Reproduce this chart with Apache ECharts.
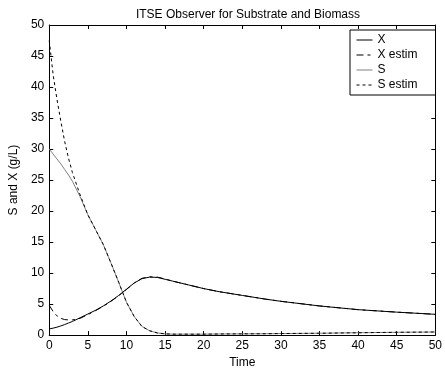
<!DOCTYPE html>
<html>
<head>
<meta charset="utf-8">
<script src="https://cdn.jsdelivr.net/npm/echarts@6/dist/echarts.min.js"></script>
<style>html,body{margin:0;padding:0;background:#fff;}#c{width:445px;height:374px;}</style>
</head>
<body>
<div id="c"></div>
<script>
var timeGrid = [0,0.5,1,1.5,2,2.5,3,4,5,6,7,8,9,10,11,12,13,14,15,16,17,18,20,22,25,28,30,35,40,45,50];
var xTrue  = [1.0,1.12,1.28,1.48,1.7,1.95,2.2,2.8,3.4,4.0,4.7,5.5,6.4,7.4,8.4,9.1,9.35,9.3,9.0,8.7,8.4,8.1,7.5,7.0,6.4,5.8,5.45,4.7,4.1,3.7,3.35];
var xEstim = [4.8,3.8,3.1,2.7,2.5,2.45,2.45,2.7,3.3,3.95,4.65,5.45,6.35,7.35,8.4,9.15,9.4,9.35,9.05,8.7,8.4,8.1,7.5,7.0,6.4,5.8,5.45,4.7,4.1,3.7,3.35];
var sTrue  = [30,29.2,28.4,27.6,26.7,25.8,24.8,22.3,19.4,17.0,14.6,11.6,8.5,5.3,3.0,1.4,0.7,0.35,0.2,0.15,0.15,0.15,0.15,0.18,0.2,0.22,0.25,0.3,0.38,0.45,0.5];
var sEstim = [47.5,42,38,34.5,31.2,28.5,26.2,22.6,19.4,17.0,14.6,11.6,8.5,5.3,3.0,1.4,0.7,0.35,0.2,0.15,0.15,0.15,0.15,0.18,0.2,0.22,0.25,0.3,0.38,0.45,0.5];
var seriesNames = ['X','X estim','S','S estim'];
var titleText = 'ITSE Observer for Substrate and Biomass';
var xLabel = 'Time';
var yLabel = 'S and X (g/L)';

function pairs(v){ return timeGrid.map(function(t,i){ return [t, v[i]]; }); }

var FONT = 'Liberation Sans';
var chart = echarts.init(document.getElementById('c'), null, {renderer:'canvas'});
var axisCommon = {
  type:'value',
  axisLine:{show:true, onZero:false, lineStyle:{color:'#000', width:1}},
  axisTick:{show:true, inside:true, length:4, lineStyle:{color:'#000'}},
  splitLine:{show:false}
};
chart.setOption({
  animation:false,
  backgroundColor:'#fff',
  title:{text:titleText, left:243, textAlign:'center', top:4,
    textStyle:{fontFamily:FONT, fontSize:12, fontWeight:'normal', color:'#000'}},
  grid:{left:43, right:3, top:25, bottom:36, containLabel:false},
  legend:{
    orient:'vertical', left:350, top:30,
    backgroundColor:'#fff', borderColor:'#000', borderWidth:1,
    padding:[4,18,4,6], itemWidth:16, itemHeight:12, itemGap:3, itemTextGap:10,
    itemStyle:{opacity:0},
    lineStyle:{width:1},
    textStyle:{fontFamily:FONT, fontSize:12, color:'#000', lineHeight:12},
    data:seriesNames
  },
  xAxis:[
    Object.assign({}, axisCommon, {position:'bottom', min:0, max:50, interval:5,
      name:xLabel, nameLocation:'middle', nameGap:20,
      nameTextStyle:{fontFamily:FONT, fontSize:12, color:'#000'},
      axisLabel:{fontFamily:FONT, fontSize:12, color:'#000', margin:5}}),
    Object.assign({}, axisCommon, {position:'top', min:0, max:50, interval:5,
      axisLabel:{show:false}})
  ],
  yAxis:[
    Object.assign({}, axisCommon, {position:'left', min:0, max:50, interval:5,
      name:yLabel, nameLocation:'middle', nameGap:27,
      nameTextStyle:{fontFamily:FONT, fontSize:12, color:'#000'},
      axisLabel:{fontFamily:FONT, fontSize:12, color:'#000', margin:5}}),
    Object.assign({}, axisCommon, {position:'right', min:0, max:50, interval:5,
      axisLabel:{show:false}})
  ],
  series:[
    {name:seriesNames[2], type:'line', symbol:'none', data:pairs(sTrue), z:2,
      lineStyle:{color:'#808080', width:1, type:'solid'}, itemStyle:{color:'#808080'}},
    {name:seriesNames[3], type:'line', symbol:'none', data:pairs(sEstim), z:3,
      lineStyle:{color:'#000', width:1, type:[3,3]}, itemStyle:{color:'#000'}},
    {name:seriesNames[0], type:'line', symbol:'none', data:pairs(xTrue), z:4,
      lineStyle:{color:'#000', width:1, type:'solid'}, itemStyle:{color:'#000'}},
    {name:seriesNames[1], type:'line', symbol:'none', data:pairs(xEstim), z:5,
      lineStyle:{color:'#000', width:1, type:[7,4,3,4]}, itemStyle:{color:'#000'}}
  ]
});
</script>
</body>
</html>
